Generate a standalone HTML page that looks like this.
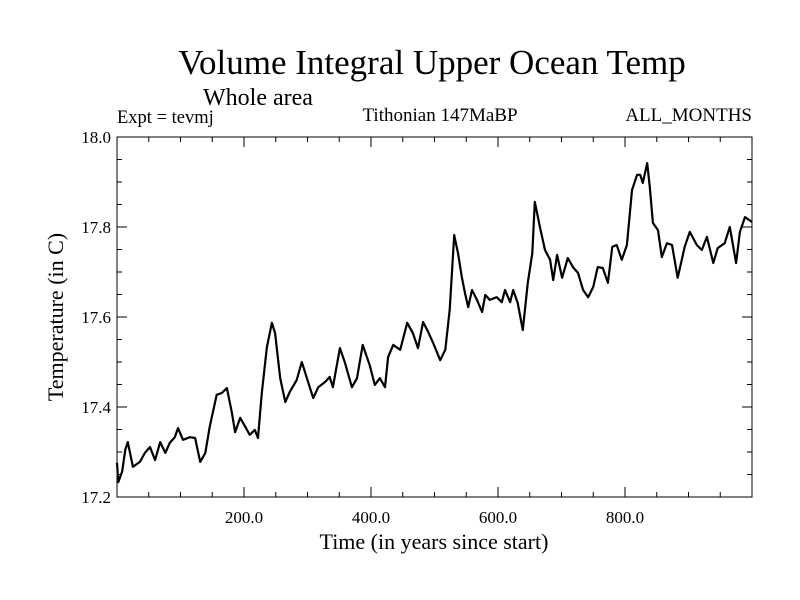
<!DOCTYPE html>
<html><head><meta charset="utf-8"><style>
html,body{margin:0;padding:0;background:#fff;}
svg{display:block;font-family:"Liberation Serif",serif;}
</style></head><body>
<svg id="chart" width="800" height="600" viewBox="0 0 800 600">
<text x="432" y="74" font-size="35" text-anchor="middle">Volume Integral Upper Ocean Temp</text>
<text x="203" y="105" font-size="24">Whole area</text>
<text x="117" y="123" font-size="18.5">Expt = tevmj</text>
<text x="440" y="121" font-size="19" text-anchor="middle">Tithonian 147MaBP</text>
<text x="752" y="121" font-size="19" text-anchor="end">ALL_MONTHS</text>
<text x="434" y="549" font-size="22" text-anchor="middle">Time (in years since start)</text>
<text transform="translate(63,317) rotate(-90)" font-size="22" text-anchor="middle">Temperature (in C)</text>
<g id="axes"></g>
<g id="series"></g>
</svg>
<script>
const years=[0,2,8,13,17,25,36,44,52,60,68,76,83,91,96,104,115,123,131,139,146,157,165,173,181,186,194,202,209,217,222,228,236,244,249,257,265,272,283,291,299,309,317,328,335,340,351,359,370,378,387,398,406,414,422,427,435,446,457,466,474,482,490,498,509,517,524,531,537,543,548,553,559,567,575,580,587,598,606,611,619,624,631,639,647,654,658,666,674,682,687,693,701,710,718,726,734,742,750,757,765,773,780,787,795,803,811,819,824,828,835,839,844,852,858,866,874,883,894,902,913,921,929,939,946,957,965,975,981,989,1000];
const temps=[17.276,17.233,17.256,17.305,17.322,17.267,17.278,17.298,17.311,17.282,17.322,17.298,17.320,17.333,17.353,17.327,17.333,17.331,17.278,17.298,17.356,17.427,17.431,17.442,17.387,17.344,17.376,17.356,17.338,17.349,17.331,17.431,17.533,17.587,17.564,17.464,17.411,17.433,17.460,17.500,17.464,17.420,17.444,17.456,17.467,17.444,17.531,17.498,17.444,17.464,17.538,17.493,17.449,17.464,17.444,17.511,17.538,17.527,17.587,17.564,17.531,17.589,17.567,17.542,17.504,17.527,17.616,17.782,17.742,17.689,17.653,17.622,17.660,17.638,17.611,17.649,17.638,17.644,17.633,17.660,17.633,17.660,17.631,17.571,17.676,17.742,17.856,17.800,17.749,17.727,17.682,17.738,17.687,17.731,17.711,17.698,17.660,17.644,17.667,17.711,17.709,17.676,17.756,17.760,17.727,17.760,17.882,17.916,17.916,17.898,17.942,17.889,17.809,17.793,17.733,17.764,17.760,17.687,17.756,17.789,17.760,17.749,17.778,17.720,17.753,17.764,17.800,17.720,17.789,17.822,17.811];
const xTickVals=[200,400,600,800];
const xTickLabels=["200.0","400.0","600.0","800.0"];
const yTickVals=[17.2,17.4,17.6,17.8,18.0];
const yTickLabels=["17.2","17.4","17.6","17.8","18.0"];

const L=117,R=752,T=137,B=497;
const X0=0,X1=1000,Y0=17.2,Y1=18.0;
function sx(v){return L+(v-X0)/(X1-X0)*(R-L);}
function sy(v){return B-(v-Y0)/(Y1-Y0)*(B-T);}
const NS="http://www.w3.org/2000/svg";
const axes=document.getElementById('axes');
function mk(tag,attrs,parent){const e=document.createElementNS(NS,tag);for(const k in attrs)e.setAttribute(k,attrs[k]);parent.appendChild(e);return e;}

const frame=mk('rect',{x:L,y:T,width:R-L,height:B-T,fill:'none',stroke:'#000','stroke-width':1},axes);



for(let v=50;v<X1;v+=50){
  const major=xTickVals.includes(v);const len=major?10:5;const x=sx(v);
  const t1=mk('line',{x1:x,y1:B,x2:x,y2:B-len,stroke:'#000'},axes);
  
  
  const t2=mk('line',{x1:x,y1:T,x2:x,y2:T+len,stroke:'#000'},axes);
  
  
}
xTickVals.forEach((v,i)=>{
  const t=mk('text',{x:sx(v),y:B+26,'font-size':17,'text-anchor':'middle'},axes);
  t.textContent=xTickLabels[i];
  
  
});
for(let k=1;k<16;k++){
  const v=Y0+k*0.05;const major=(k%4===0);const len=major?10:5;const y=sy(v);
  const t1=mk('line',{x1:L,y1:y,x2:L+len,y2:y,stroke:'#000'},axes);
  
  
  const t2=mk('line',{x1:R,y1:y,x2:R-len,y2:y,stroke:'#000'},axes);
  
  
}
yTickVals.forEach((v,i)=>{
  const t=mk('text',{x:L-6,y:sy(v)+6,'font-size':17,'text-anchor':'end'},axes);
  t.textContent=yTickLabels[i];
  
  
});

const pts=years.map((y,i)=>sx(y).toFixed(1)+','+sy(temps[i]).toFixed(1)).join(' ');
const line=mk('polyline',{points:pts,fill:'none',stroke:'#000','stroke-width':2.2,'stroke-linejoin':'round'},document.getElementById('series'));


</script>
</body></html>
